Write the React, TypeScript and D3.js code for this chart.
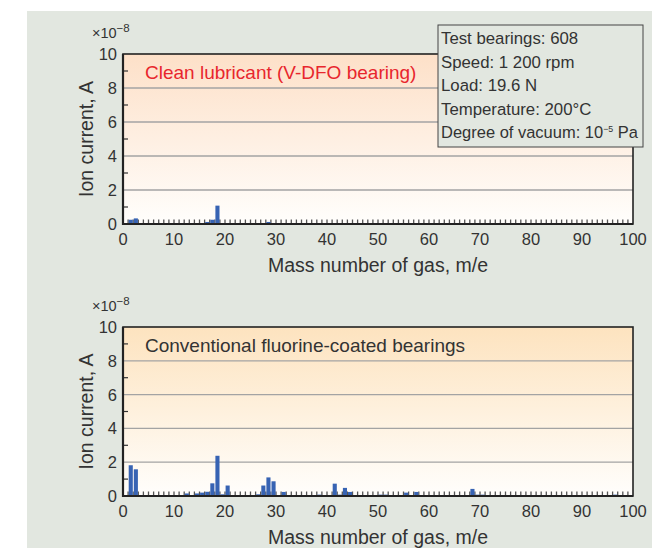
import React from "react";
import * as d3 from "d3";

const massTop = [1, 2, 16, 17, 18, 28];
const valTop = [0.25, 0.33, 0.12, 0.25, 1.08, 0.12];

const massBottom = [1, 2, 12, 14, 15, 16, 17, 18, 19, 20, 26, 27, 28, 29, 31, 38, 41, 42, 43, 44, 50, 51, 55, 57, 68, 69, 70, 96];
const valBottom = [1.82, 1.58, 0.15, 0.15, 0.2, 0.25, 0.75, 2.38, 0.1, 0.62, 0.1, 0.62, 1.1, 0.87, 0.24, 0.08, 0.73, 0.08, 0.48, 0.24, 0.08, 0.08, 0.2, 0.24, 0.42, 0.08, 0.08, 0.08];

const xTicks = [0, 10, 20, 30, 40, 50, 60, 70, 80, 90, 100];
const yTicks = [0, 2, 4, 6, 8, 10];
const legendLines = ["Test bearings: 608", "Speed: 1 200 rpm", "Load: 19.6 N", "Temperature: 200°C"];

const FONT = "'Liberation Sans', Arial, Helvetica, sans-serif";
const TXT = "#333";

function Panel({ top, bottom, mass, vals, title, titleColor, gid, c1 }: any) {
  const x = d3.scaleLinear().domain([0, 100]).range([123, 633]);
  const y = d3.scaleLinear().domain([0, 10]).range([bottom, top]);
  const ints = d3.range(1, 100);
  const odd = [1, 3, 5, 7, 9];
  return (
    <g>
      <defs>
        <linearGradient id={gid} x1="0" y1="0" x2="0" y2="1">
          <stop offset="0" stopColor={c1} />
          <stop offset="1" stopColor="#fffefc" />
        </linearGradient>
      </defs>
      <rect x={x(0)} y={y(10)} width={x(100) - x(0)} height={y(0) - y(10)} fill={`url(#${gid})`} />
      {yTicks.slice(1, 5).map((t) => (
        <line key={"g" + t} x1={x(0)} x2={x(100)} y1={y(t)} y2={y(t)} stroke="#a3a3a3" strokeWidth={1.3} />
      ))}
      {odd.map((t) => (
        <line key={"m" + t} x1={x(0)} x2={x(0) + 5} y1={y(t)} y2={y(t)} stroke="#333" strokeWidth={1.2} />
      ))}
      {ints.map((t) => (
        <line key={"xt" + t} x1={x(t)} x2={x(t)} y1={y(0)} y2={y(0) - 4.5} stroke="#555" strokeWidth={1.3} />
      ))}
      {mass.map((m: number, i: number) => (
        <rect key={"b" + m} x={x(m) + 0.6} width={x(m + 1) - x(m) - 1} y={y(vals[i])} height={y(0) - y(vals[i])} fill="#3763b3" />
      ))}
      <rect x={x(0)} y={y(10)} width={x(100) - x(0)} height={y(0) - y(10)} fill="none" stroke="#222" strokeWidth={1.6} />
      <line x1={x(0)} x2={x(0)} y1={y(10)} y2={y(0) + 1} stroke="#222" strokeWidth={2.2} />
      <line x1={x(0) - 1} x2={x(100)} y1={y(0)} y2={y(0)} stroke="#222" strokeWidth={2.2} />
      {yTicks.map((t) => (
        <text key={"yl" + t} x={x(0) - 6} y={y(t)} dy="0.36em" textAnchor="end" fontSize={16.5} fill={TXT}>{t}</text>
      ))}
      {xTicks.map((t) => (
        <text key={"xl" + t} x={x(t)} y={y(0) + 21} textAnchor="middle" fontSize={16.5} fill={TXT}>{t}</text>
      ))}
      <text x={92} y={y(10) - 16} fontSize={14.5} fill={TXT}>×10<tspan dy={-6} fontSize={11.5}>−8</tspan></text>
      <text transform={`translate(86,${(y(0) + y(10)) / 2}) rotate(-90)`} textAnchor="middle" dominantBaseline="central" fontSize={19.5} fill={TXT}>Ion current, A</text>
      <text x={(x(0) + x(100)) / 2 + 0} y={y(0) + 48} textAnchor="middle" fontSize={19.5} fill={TXT}>Mass number of gas, m/e</text>
      <text x={145} y={y(10) + 25} fontSize={19} fill={titleColor}>{title}</text>
    </g>
  );
}

export default function App() {
  return (
    <svg width={652} height={548} style={{ position: "absolute", left: 0, top: 0, fontFamily: FONT }}>
      <rect x={0} y={0} width={652} height={548} fill="#ffffff" />
      <rect x={27} y={11} width={625} height={537} fill="#e2e7e0" />
      <Panel top={54} bottom={224} mass={massTop} vals={valTop} title="Clean lubricant (V-DFO bearing)" titleColor="#e8262d" gid="gTop" c1="#fde0c8" />
      <Panel top={327} bottom={496} mass={massBottom} vals={valBottom} title="Conventional fluorine-coated bearings" titleColor="#333" gid="gBot" c1="#fde3bf" />
      <rect x={438} y={25} width={205} height={122} fill="#e2e7e0" stroke="#444" strokeWidth={1} />
      {legendLines.map((s, i) => (
        <text key={s} x={441} y={44 + i * 23.5} fontSize={16.8} fill={TXT}>{s}</text>
      ))}
      <text x={441} y={44 + 4 * 23.5} fontSize={16.8} fill={TXT} textLength={197} lengthAdjust="spacingAndGlyphs">Degree of vacuum: 10<tspan dy={-6} fontSize={9}>−5</tspan><tspan dy={6}> Pa</tspan></text>
    </svg>
  );
}
